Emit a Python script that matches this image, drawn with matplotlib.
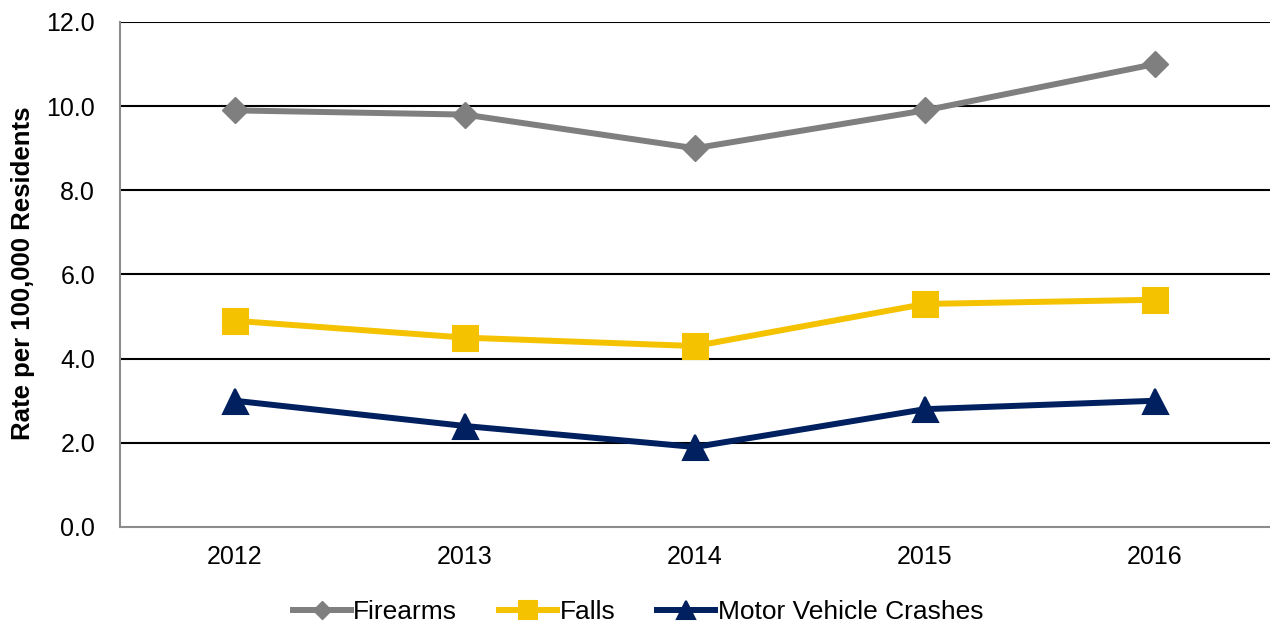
import matplotlib
matplotlib.use("Agg")
import matplotlib.pyplot as plt

years = ["2012", "2013", "2014", "2015", "2016"]
firearms = [9.9, 9.8, 9.0, 9.9, 11.0]
falls = [4.9, 4.5, 4.3, 5.3, 5.4]
mvc = [3.0, 2.4, 1.9, 2.8, 3.0]
yticks = [0, 2, 4, 6, 8, 10, 12]

plt.rcParams['font.family'] = ['Liberation Sans', 'DejaVu Sans']

fig = plt.figure(figsize=(12.7, 6.25), dpi=100)
ax = fig.add_axes([120/1270, 1-527/625, 1-120/1270, (527-22)/625])

x = list(range(len(years)))
gray = '#7f7f7f'
yellow = '#f5c200'
navy = '#002060'
lw = 4.3
ax.plot(x, firearms, color=gray, lw=lw, marker='D', ms=13.5, mfc=gray, mec=gray, mew=1, label='Firearms', zorder=3)
ax.plot(x, falls, color=yellow, lw=lw, marker='s', ms=18, mfc=yellow, mec=yellow, mew=1.5, label='Falls', zorder=3)
ax.plot(x, mvc, color=navy, lw=lw, marker='^', ms=18, mfc=navy, mec=navy, mew=1.5, label='Motor Vehicle Crashes', zorder=3)

ax.set_xlim(-0.5, 4.5)
ax.set_ylim(0, 12)
ax.set_yticks(yticks)
ax.set_yticklabels([f"{v:.1f}" for v in yticks])
ax.set_xticks(x)
ax.set_xticklabels(years)
for v in yticks[1:]:
    ax.axhline(v, color='black', lw=1.5, zorder=1)
ax.tick_params(axis='y', length=0, pad=18, labelsize=18)
ax.tick_params(axis='x', length=0, pad=13, labelsize=18)
for s in ['top', 'right']:
    ax.spines[s].set_visible(False)
for s in ['left', 'bottom']:
    ax.spines[s].set_color('#8c8c8c')
    ax.spines[s].set_linewidth(1.5)

fig.text(23/1270, 1-273/625, 'Rate per 100,000 Residents', rotation=90, ha='center', va='center',
         fontsize=18.5, fontweight='bold')

leg = fig.legend(loc='center', bbox_to_anchor=(638/1270, 1-612/625), ncol=3, frameon=False,
                 fontsize=19, handlelength=2.2, handletextpad=0.08, columnspacing=1.6, markerscale=0.7)

fig.savefig('out.png', dpi=100)
